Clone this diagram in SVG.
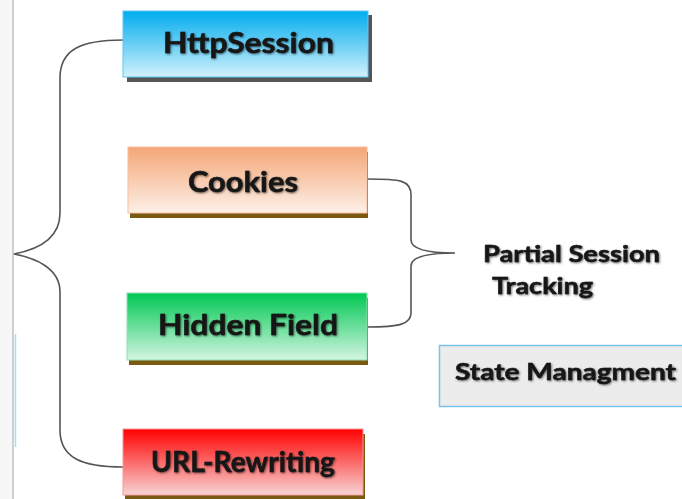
<svg xmlns="http://www.w3.org/2000/svg" width="682" height="499" viewBox="0 0 682 499">
<defs>
<linearGradient id="gBlue" x1="0" y1="0" x2="0" y2="1"><stop offset="0" stop-color="#00acee"/><stop offset="1" stop-color="#d2f1fc"/></linearGradient>
<linearGradient id="gOrange" x1="0" y1="0" x2="0" y2="1"><stop offset="0" stop-color="#f4a676"/><stop offset="1" stop-color="#fdf0e8"/></linearGradient>
<linearGradient id="gGreen" x1="0" y1="0" x2="0" y2="1"><stop offset="0" stop-color="#00c853"/><stop offset="1" stop-color="#d4f5e2"/></linearGradient>
<linearGradient id="gRed" x1="0" y1="0" x2="0" y2="1"><stop offset="0" stop-color="#ff0000"/><stop offset="1" stop-color="#f8d4d4"/></linearGradient>
<filter id="ts" x="-10%" y="-30%" width="120%" height="160%">
<feGaussianBlur in="SourceAlpha" stdDeviation="0.9" result="b"/>
<feOffset in="b" dx="0.6" dy="0.6" result="o"/>
<feFlood flood-color="#000" flood-opacity="0.55"/>
<feComposite in2="o" operator="in" result="s"/>
<feMerge><feMergeNode in="s"/><feMergeNode in="SourceGraphic"/></feMerge>
</filter>
</defs>
<style>
.lbl{font-family:Lato,"Open Sans","Liberation Sans",sans-serif;font-weight:bold;fill:#151515;stroke:#151515;stroke-width:0.5;filter:url(#ts)}
.big{font-size:29px}
.sm{font-size:23px}
.conn{fill:none;stroke:#555;stroke-width:1.6}
.shb{fill:#7a5a12}
</style>
<rect x="0" y="0" width="682" height="499" fill="#fff"/>
<rect x="0" y="0" width="12" height="499" fill="#f7f7f7"/>
<line x1="13" y1="0" x2="13" y2="499" stroke="#cfcfcf" stroke-width="2"/>
<line x1="15.5" y1="334" x2="15.5" y2="447" stroke="#a9daf5" stroke-width="1.5"/>

<g id="connectors">
<path class="conn" d="M123 40 C 80 40, 60 50, 60 78 L 60 213 C 60 240, 35 250, 14 254 C 35 258, 60 268, 60 292 L 60 430 C 60 458, 82 467, 123 467"/>
<path class="conn" d="M367 179 C 400 179, 411 180, 411 195 L 411 240 C 411 249, 425 253, 455 253 C 425 253, 411 257, 411 266 L 411 313 C 411 324, 400 327, 367 327"/>
</g>

<g id="httpsession">
<rect x="127" y="15" width="245" height="67" fill="#555"/>
<rect x="123" y="11" width="245" height="66" fill="url(#gBlue)" stroke="#5cc8f2" stroke-width="1"/>
<text class="lbl big" x="248.5" y="53" text-anchor="middle" textLength="171" lengthAdjust="spacingAndGlyphs">HttpSession</text>
</g>

<g id="cookies">
<rect class="shb" x="130" y="152" width="238" height="66"/>
<rect x="128" y="147" width="239" height="66" fill="url(#gOrange)" stroke="#f6c0a0" stroke-width="1"/>
<text class="lbl big" x="243" y="192" text-anchor="middle" textLength="110" lengthAdjust="spacingAndGlyphs">Cookies</text>
</g>

<g id="hiddenfield">
<rect class="shb" x="129" y="298" width="239" height="67"/>
<rect x="127" y="293" width="240" height="67" fill="url(#gGreen)" stroke="#8fe0b0" stroke-width="1"/>
<text class="lbl big" x="248" y="335" text-anchor="middle" textLength="180" lengthAdjust="spacingAndGlyphs">Hidden Field</text>
</g>

<g id="urlrewriting">
<rect class="shb" x="125" y="434" width="240" height="65"/>
<rect x="123" y="429" width="240" height="66" fill="url(#gRed)" stroke="#f49a9a" stroke-width="1"/>
<text class="lbl big" x="243" y="472" text-anchor="middle" textLength="184" lengthAdjust="spacingAndGlyphs">URL-Rewriting</text>
</g>

<g id="partial">
<text class="lbl sm" x="483" y="262" textLength="177" lengthAdjust="spacingAndGlyphs">Partial Session</text>
<text class="lbl sm" x="492" y="294" textLength="101" lengthAdjust="spacingAndGlyphs">Tracking</text>
</g>

<g id="statemanagment">
<rect x="439.5" y="345.5" width="250" height="61" fill="#ececec" stroke="#79c3ec" stroke-width="1.5"/>
<text class="lbl sm" x="455" y="380" textLength="221" lengthAdjust="spacingAndGlyphs">State Managment</text>
</g>
</svg>
